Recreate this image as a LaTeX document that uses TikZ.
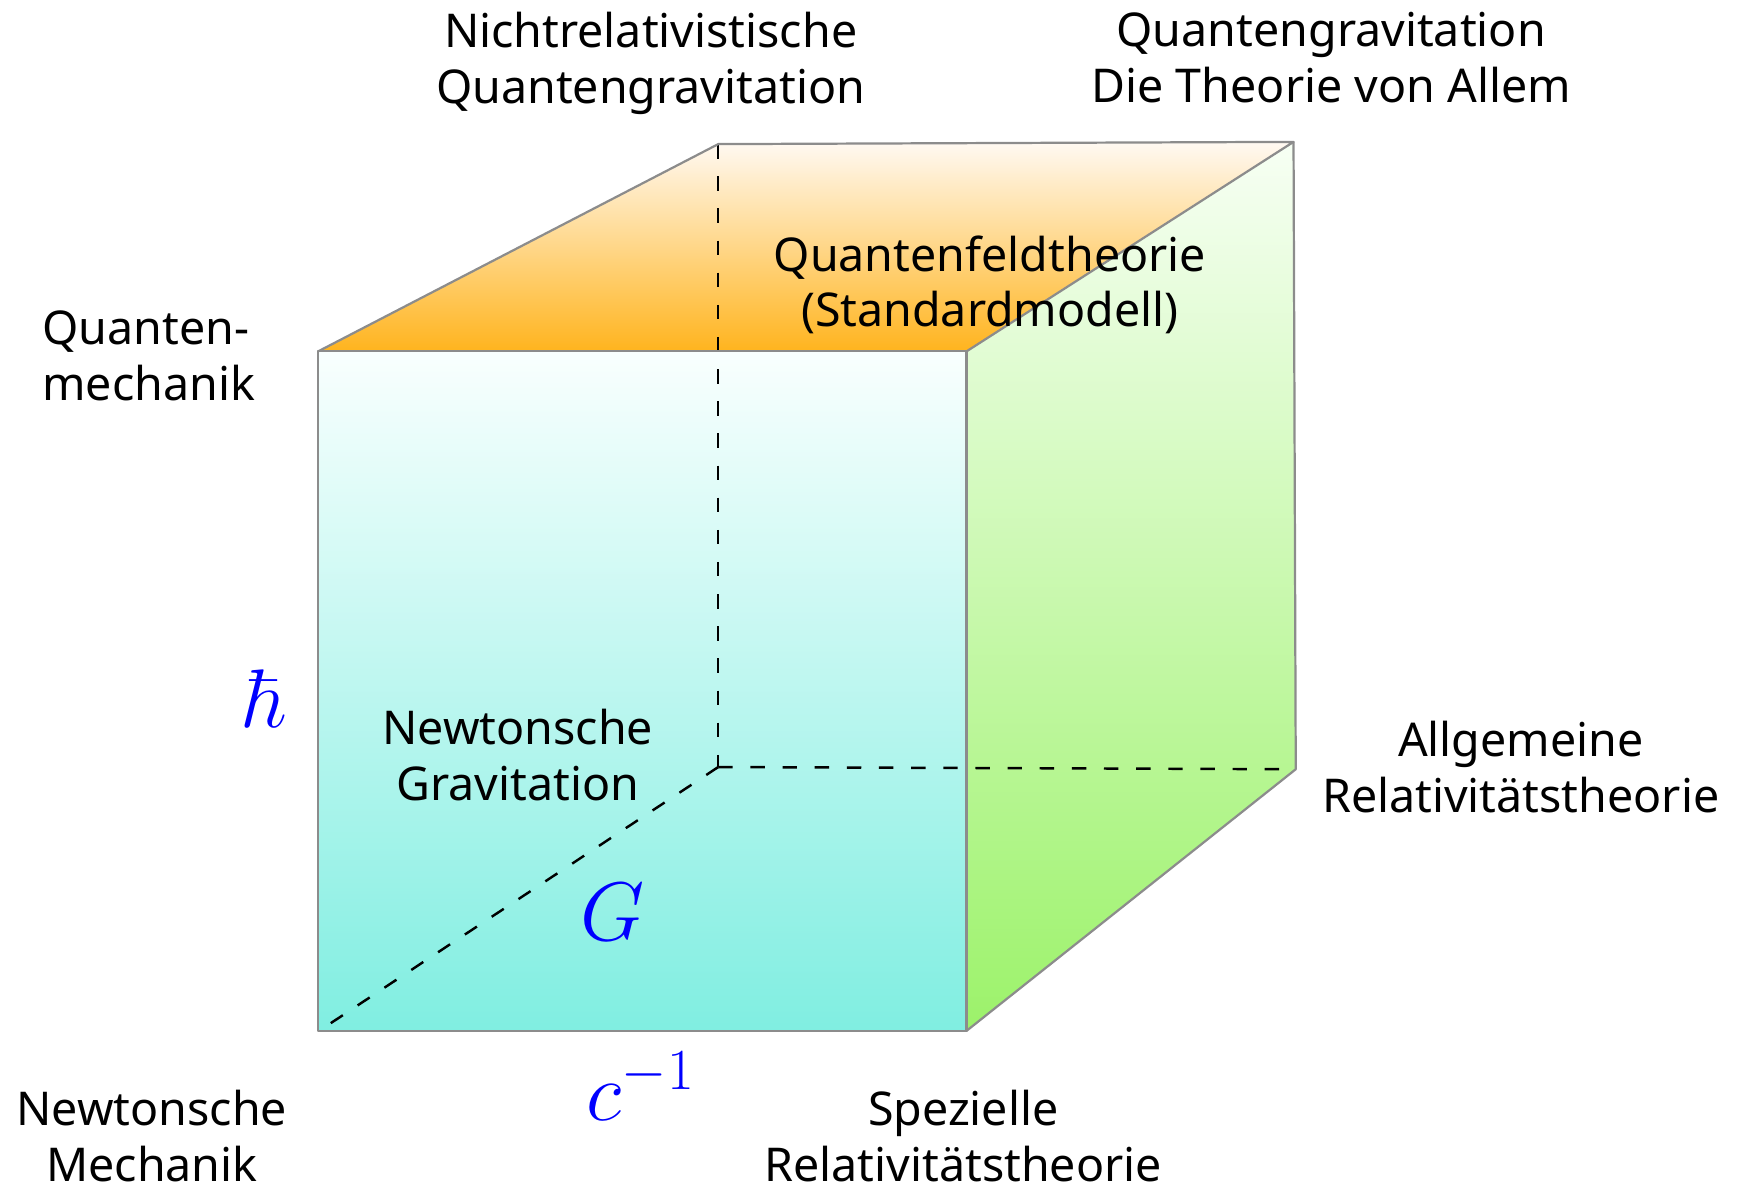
\RequirePackage{fix-cm}
\documentclass[tikz,border=0pt]{standalone}
\usepackage[no-math]{fontspec}
\setmainfont{Noto Sans}
\definecolor{edgegray}{HTML}{8C8C8C}
\definecolor{topdark}{HTML}{FFB41E}
\definecolor{toplight}{HTML}{FFF9F2}
\definecolor{frontlight}{HTML}{F9FFFE}
\definecolor{frontdark}{HTML}{80EEE1}
\definecolor{rightlight}{HTML}{F7FFF4}
\definecolor{rightdark}{HTML}{9CF26A}
\definecolor{mathblue}{HTML}{0000FF}
\begin{document}
\begin{tikzpicture}[x=1pt,y=-1pt,
  edge/.style={draw=edgegray, line width=2pt, line join=round},
  hidden/.style={draw=black, line width=2.2pt, dash pattern=on 13pt off 16pt},
  lbl/.style={font=\fontsize{42}{50}\selectfont, align=center, inner sep=0pt, text=black},
  sym/.style={font=\fontsize{75}{80}\selectfont, text=mathblue, inner sep=0pt}]
\useasboundingbox (0,0) rectangle (1568,1069);
% corners
\coordinate (A) at (287,317);
\coordinate (B) at (872,317);
\coordinate (C) at (872,930);
\coordinate (D) at (287,930);
\coordinate (E) at (648,130);
\coordinate (F) at (1167,128);
\coordinate (G) at (1169,694);
\coordinate (H) at (648,692);
\coordinate (Dd) at (297,924);
% faces
\shade[top color=toplight, bottom color=topdark] (A) -- (E) -- (F) -- (B) -- cycle;
\shade[top color=rightlight, bottom color=rightdark] (B) -- (F) -- (G) -- (C) -- cycle;
\shade[top color=frontlight, bottom color=frontdark] (A) -- (B) -- (C) -- (D) -- cycle;
% hidden edges
\draw[hidden] (E) -- (H);
\draw[hidden] (H) -- (G);
\draw[hidden] (H) -- (Dd);
% visible edges
\draw[edge] (A) -- (B) -- (C) -- (D) -- cycle;
\draw[edge] (A) -- (E) -- (F) -- (B);
\draw[edge] (F) -- (G) -- (C);
% labels
\node[lbl] (nqg) at (587,57) {Nichtrelativistische\\Quantengravitation};
\node[lbl] (toe) at (1201,52) {Quantengravitation\\Die Theorie von Allem};
\node[lbl, align=left, anchor=west] (qm) at (38,321) {Quanten-\\mechanik};
\node[lbl] (qft) at (893,257) {Quantenfeldtheorie\\(Standardmodell)};
\node[lbl] (ng) at (467,681) {Newtonsche\\Gravitation};
\node[lbl] (art) at (1372,692) {Allgemeine\\Relativitätstheorie};
\node[lbl] (nm) at (137,1025) {Newtonsche\\Mechanik};
\node[lbl] (srt) at (869,1025) {Spezielle\\Relativitätstheorie};
\node[sym] (hb) at (240,630) {$\hbar$};
\node[sym] (gc) at (553,823) {$G$};
\node[sym] (cinv) at (578,980) {$c^{-1}$};
\end{tikzpicture}
\end{document}
